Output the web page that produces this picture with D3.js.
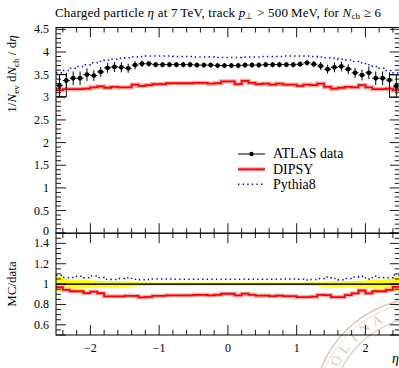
<!DOCTYPE html>
<html><head><meta charset="utf-8">
<script src="https://cdn.jsdelivr.net/npm/d3@7"></script>
<style>
body{margin:0;background:#fff}
svg{display:block}
text{font-family:"Liberation Serif","Times New Roman",serif;fill:#000}
</style>
</head><body>
<svg id="c" width="399" height="368"></svg>
<script>
// ---------- data ----------
const etaEdges = [-2.5,-2.4,-2.3,-2.2,-2.1,-2.0,-1.9,-1.8,-1.7,-1.6,-1.5,-1.4,-1.3,-1.2,-1.1,-1.0,-0.9,-0.8,-0.7,-0.6,-0.5,-0.4,-0.3,-0.2,-0.1,0.0,
  0.1,0.2,0.3,0.4,0.5,0.6,0.7,0.8,0.9,1.0,1.1,1.2,1.3,1.4,1.5,1.6,1.7,1.8,1.9,2.0,2.1,2.2,2.3,2.4,2.5];
const atlasData = [3.26,3.37,3.42,3.42,3.50,3.48,3.56,3.65,3.67,3.66,3.64,3.71,3.74,3.74,3.72,3.72,3.72,3.72,3.72,3.72,3.71,3.71,3.71,3.70,3.70,
  3.70,3.70,3.71,3.71,3.71,3.72,3.72,3.72,3.72,3.72,3.73,3.76,3.73,3.69,3.62,3.66,3.68,3.62,3.54,3.49,3.54,3.42,3.42,3.38,3.25];
const atlasErr = [0.245,0.17,0.15,0.15,0.14,0.12,0.11,0.11,0.11,0.11,0.10,0.09,0.07,0.06,0.06,0.06,0.06,0.06,0.06,0.06,0.06,0.06,0.06,0.06,0.06,
  0.06,0.06,0.06,0.06,0.06,0.06,0.06,0.06,0.06,0.06,0.06,0.06,0.07,0.09,0.10,0.11,0.11,0.11,0.11,0.12,0.14,0.15,0.15,0.17,0.245];
const dipsy = [3.16,3.18,3.18,3.18,3.19,3.22,3.24,3.21,3.23,3.22,3.22,3.28,3.25,3.27,3.29,3.29,3.31,3.31,3.31,3.31,3.32,3.32,3.30,3.31,3.35,
  3.35,3.29,3.36,3.32,3.29,3.30,3.28,3.30,3.28,3.28,3.25,3.28,3.27,3.30,3.23,3.19,3.21,3.23,3.22,3.27,3.22,3.18,3.18,3.19,3.16];
const pythia8 = [3.54,3.59,3.64,3.68,3.72,3.76,3.79,3.82,3.84,3.86,3.87,3.89,3.90,3.91,3.91,3.91,3.91,3.90,3.90,3.90,3.89,3.89,3.89,3.88,3.88,
  3.88,3.88,3.89,3.89,3.89,3.90,3.90,3.90,3.91,3.91,3.91,3.91,3.90,3.89,3.87,3.86,3.84,3.82,3.79,3.76,3.72,3.68,3.64,3.59,3.54];
const xTickVals = [-2,-1,0,1,2];
const yTickValsTop = [0,0.5,1,1.5,2,2.5,3,3.5,4,4.5];
const yTickValsRatio = [0.6,0.8,1,1.2,1.4];
const legendLabels = ["ATLAS data","DIPSY","Pythia8"];
const sealLetters = ["O","L","I","N","A"];

// ---------- layout ----------
const svg = d3.select("#c");
const X0 = 56, X1 = 399.8, TOP = 27.5, MID = 233.2, BOT = 335;
const x = d3.scaleLinear().domain([-2.5,2.5]).range([X0,X1]);
const yT = d3.scaleLinear().domain([0,4.54]).range([MID,TOP]);
const yR = d3.scaleLinear().domain([0.5,1.5]).range([BOT,MID]);

const bins = atlasData.map((v,i)=>({lo:etaEdges[i],hi:etaEdges[i+1],c:(etaEdges[i]+etaEdges[i+1])/2,
  d:v,e:atlasErr[i],dip:dipsy[i],py:pythia8[i]}));

const defs = svg.append("defs");
defs.append("clipPath").attr("id","cpT").append("rect").attr("x",X0).attr("y",TOP).attr("width",X1-X0).attr("height",MID-TOP);
defs.append("clipPath").attr("id","cpR").append("rect").attr("x",X0).attr("y",MID).attr("width",X1-X0).attr("height",BOT-MID);

// watermark seal (faint, behind everything)
const seal = svg.append("g").attr("opacity",0.5);
const scx=425, scy=410;
[[112,1.6],[108,0.6],[93,1.1]].forEach(([r,w])=>seal.append("circle").attr("cx",scx).attr("cy",scy).attr("r",r)
  .attr("fill","none").attr("stroke","#b89570").attr("stroke-width",w));
sealLetters.forEach((ch,i)=>{
  const ang = 209 + i*8.2, a = ang*Math.PI/180, r = 97;
  seal.append("text").attr("font-size",14).attr("text-anchor","middle").style("fill","#b89570")
    .attr("transform",`translate(${scx+r*Math.cos(a)},${scy+r*Math.sin(a)}) rotate(${ang+90})`).text(ch);
});

// step path helper
function stepPts(acc, ys){
  const pts=[];
  bins.forEach(b=>{const v=acc(b); pts.push([x(b.lo),ys(v)]); pts.push([x(b.hi),ys(v)]);});
  return d3.line()(pts);
}

// ---------- top panel ----------
const gT = svg.append("g").attr("clip-path","url(#cpT)");
gT.append("path").attr("d",stepPts(b=>b.dip,yT)).attr("fill","none").attr("stroke","#f7a8a8").attr("stroke-width",4.2);
gT.append("path").attr("d",stepPts(b=>b.dip,yT)).attr("fill","none").attr("stroke","#ff0000").attr("stroke-width",1.8);
gT.append("path").attr("d",stepPts(b=>b.py,yT)).attr("fill","none").attr("stroke","#0000ff")
  .attr("stroke-width",1.5).attr("stroke-dasharray","1.4,3.2");
const pts = gT.append("g");
bins.forEach((b,i)=>{
  const edge = (i===0 || i===bins.length-1);
  if(edge){
    pts.append("rect").attr("x",x(b.c-0.1)).attr("y",yT(b.d+b.e)).attr("width",x(b.c+0.1)-x(b.c-0.1))
      .attr("height",yT(b.d-b.e)-yT(b.d+b.e)).attr("fill","none").attr("stroke","#000").attr("stroke-width",0.9);
  }
  pts.append("line").attr("x1",x(b.c)).attr("x2",x(b.c)).attr("y1",yT(b.d-b.e)).attr("y2",yT(b.d+b.e)).attr("stroke","#000").attr("stroke-width",1);
  pts.append("line").attr("x1",x(b.lo)).attr("x2",x(b.hi)).attr("y1",yT(b.d)).attr("y2",yT(b.d)).attr("stroke","#000").attr("stroke-width",1);
  pts.append("circle").attr("cx",x(b.c)).attr("cy",yT(b.d)).attr("r",2.4).attr("fill","#000");
});

// ---------- ratio panel ----------
const gR = svg.append("g").attr("clip-path","url(#cpR)");
bins.forEach(b=>{
  const rel=b.e/b.d;
  gR.append("rect").attr("x",x(b.lo)).attr("width",x(b.hi)-x(b.lo)+0.4)
    .attr("y",yR(1+rel)).attr("height",yR(1-rel)-yR(1+rel)).attr("fill","#ffff00");
});
gR.append("line").attr("x1",X0).attr("x2",X1).attr("y1",yR(1)).attr("y2",yR(1)).attr("stroke","#000").attr("stroke-width",1.6).attr("opacity",0.85);
gR.append("path").attr("d",stepPts(b=>b.dip/b.d,yR)).attr("fill","none").attr("stroke","#f7a8a8").attr("stroke-width",4);
gR.append("path").attr("d",stepPts(b=>b.dip/b.d,yR)).attr("fill","none").attr("stroke","#ff0000").attr("stroke-width",1.8);
gR.append("path").attr("d",stepPts(b=>b.py/b.d,yR)).attr("fill","none").attr("stroke","#0000ff")
  .attr("stroke-width",1.5).attr("stroke-dasharray","1.4,3.2");

// ---------- frames & ticks ----------
const ax = svg.append("g").attr("stroke","#000").attr("fill","none");
ax.append("rect").attr("x",X0).attr("y",TOP).attr("width",X1-X0).attr("height",MID-TOP).attr("stroke-width",1);
ax.append("rect").attr("x",X0).attr("y",MID).attr("width",X1-X0).attr("height",BOT-MID).attr("stroke-width",1);
const MAJ=10, MIN=5;
function xTicks(yLine, dir){
  d3.range(-2.4,2.45,0.2).forEach(v=>{
    const isMaj = xTickVals.some(t=>Math.abs(t-v)<1e-6);
    ax.append("line").attr("x1",x(v)).attr("x2",x(v)).attr("y1",yLine).attr("y2",yLine+dir*(isMaj?MAJ:MIN)).attr("stroke-width",0.9);
  });
}
xTicks(MID,-1); xTicks(TOP,1); xTicks(BOT,-1); xTicks(MID,1);
function yTicks(scale, lo, hi, step, majors){
  const n=Math.round((hi-lo)/step);
  for(let k=0;k<=n;k++){
    const v=lo+k*step;
    const isMaj = majors.some(t=>Math.abs(t-v)<1e-6);
    const L = isMaj?MAJ:MIN;
    ax.append("line").attr("x1",X0).attr("x2",X0+L).attr("y1",scale(v)).attr("y2",scale(v)).attr("stroke-width",0.9);
    ax.append("line").attr("x1",X1).attr("x2",X1-L).attr("y1",scale(v)).attr("y2",scale(v)).attr("stroke-width",0.9);
  }
}
yTicks(yT,0,4.5,0.1,yTickValsTop);
yTicks(yR,0.5,1.5,0.05,yTickValsRatio.concat([0.5,1.5]));

// tick labels
const fmt = v=>String(v).replace("-","\u2212");
yTickValsTop.forEach(v=>svg.append("text").attr("x",49).attr("y",yT(v)+(v===0?1.5:4)).attr("text-anchor","end").attr("font-size",12).text(fmt(v)));
yTickValsRatio.forEach(v=>svg.append("text").attr("x",49).attr("y",yR(v)+4).attr("text-anchor","end").attr("font-size",12).text(fmt(v)));
xTickVals.forEach(v=>svg.append("text").attr("x",x(v)).attr("y",352).attr("text-anchor","middle").attr("font-size",12).text(fmt(v)));

// axis titles
const yl = svg.append("text").attr("transform","translate(16,74) rotate(-90)").attr("text-anchor","middle").attr("font-size",13);
yl.append("tspan").text("1/");
yl.append("tspan").attr("font-style","italic").text("N");
yl.append("tspan").attr("font-size",9).attr("dy",3).text("ev");
yl.append("tspan").attr("dy",-3).text(" d");
yl.append("tspan").attr("font-style","italic").text("N");
yl.append("tspan").attr("font-size",9).attr("dy",3).text("ch");
yl.append("tspan").attr("dy",-3).text(" / d");
yl.append("tspan").attr("font-style","italic").text("\u03b7");
svg.append("text").attr("transform","translate(16,284) rotate(-90)").attr("text-anchor","middle").attr("font-size",13).text("MC/data");
svg.append("text").attr("x",392).attr("y",363).attr("font-size",14).attr("font-style","italic").text("\u03b7");

// title
const tt = svg.append("text").attr("x",55).attr("y",16.5).attr("font-size",13);
tt.append("tspan").text("Charged particle ");
tt.append("tspan").attr("font-style","italic").text("\u03b7");
tt.append("tspan").text(" at 7\u2009TeV, track ");
tt.append("tspan").attr("font-style","italic").text("p");
tt.append("tspan").attr("font-size",9).attr("dy",2.5).text("\u22a5");
tt.append("tspan").attr("dy",-2.5).text(" > 500\u2009MeV, for ");
tt.append("tspan").attr("font-style","italic").text("N");
tt.append("tspan").attr("font-size",9).attr("dy",2.5).text("ch");
tt.append("tspan").attr("dy",-2.5).text(" \u2265 6");
tt.attr("textLength",326).attr("lengthAdjust","spacing");

// legend
const legY=[154,169.3,184.3];
const lg = svg.append("g");
lg.append("line").attr("x1",238).attr("x2",265).attr("y1",legY[0]).attr("y2",legY[0]).attr("stroke","#000").attr("stroke-width",1);
lg.append("circle").attr("cx",251.5).attr("cy",legY[0]).attr("r",2.2).attr("fill","#000");
lg.append("line").attr("x1",238).attr("x2",265).attr("y1",legY[1]).attr("y2",legY[1]).attr("stroke","#f7a8a8").attr("stroke-width",4);
lg.append("line").attr("x1",238).attr("x2",265).attr("y1",legY[1]).attr("y2",legY[1]).attr("stroke","#ff0000").attr("stroke-width",1.8);
lg.append("line").attr("x1",238).attr("x2",265).attr("y1",legY[2]).attr("y2",legY[2]).attr("stroke","#0000ff").attr("stroke-width",1.5).attr("stroke-dasharray","1.4,3.2");
legendLabels.forEach((t,i)=>lg.append("text").attr("x",273).attr("y",legY[i]+4.3).attr("font-size",14).text(t));
</script>
</body></html>
